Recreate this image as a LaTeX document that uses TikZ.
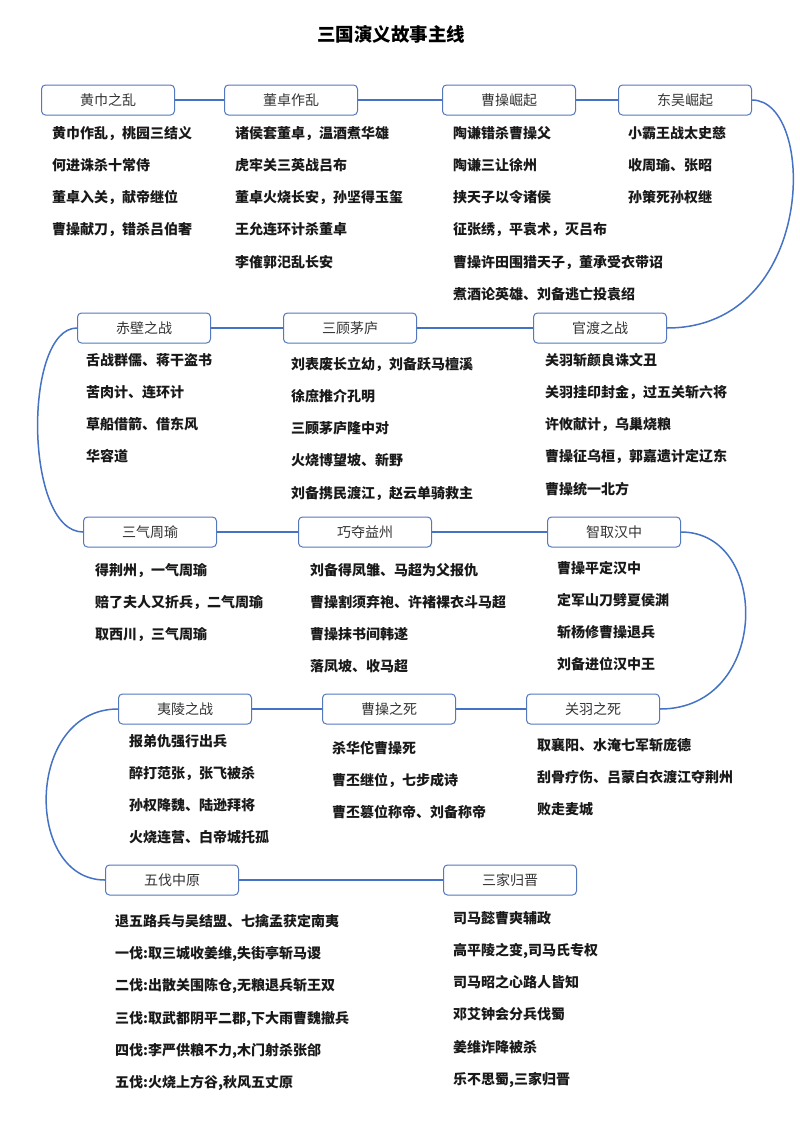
\documentclass[tikz,border=0pt]{standalone}
\usepackage{fontspec}
\setmainfont{Noto Sans CJK SC}
\definecolor{lineblue}{RGB}{68,114,196}
\definecolor{boxblue}{RGB}{84,120,190}

\begin{document}
\begin{tikzpicture}[x=1pt,y=-1pt,every node/.style={font=\fontsize{14}{16}\selectfont},
  stage/.style={align=center,rectangle,draw=boxblue,line width=1pt,rounded corners=4pt,fill=white,minimum width=133pt,minimum height=30pt,text=black!80},
  events/.style={align=left,anchor=north west,inner sep=0pt,text=black!90,font=\bfseries\fontsize{14}{32.2}\selectfont},
  link/.style={draw=lineblue,line width=1.5pt}]
\useasboundingbox (0,0) rectangle (800,1130);
\node[font=\bfseries\fontsize{18.5}{22}\selectfont] (title) at (391,34) {三国演义故事主线};
% stages
\node[stage] (huangjin) at (108,100) {黄巾之乱};
\node[stage] (dongzhuo) at (291,100) {董卓作乱};
\node[stage] (caocao) at (509,100) {曹操崛起};
\node[stage] (dongwu) at (685,100) {东吴崛起};
\node[stage] (guandu) at (600,328) {官渡之战};
\node[stage] (sangu) at (350,328) {三顾茅庐};
\node[stage] (chibi) at (144,328) {赤壁之战};
\node[stage] (sanqi) at (150,532) {三气周瑜};
\node[stage] (yizhou) at (365,532) {巧夺益州};
\node[stage] (hanzhong) at (614,532) {智取汉中};
\node[stage] (guanyu) at (593,709) {关羽之死};
\node[stage] (caosi) at (389,709) {曹操之死};
\node[stage] (yiling) at (185,709) {夷陵之战};
\node[stage] (wufa) at (172,880) {五伐中原};
\node[stage] (sanjia) at (510,880) {三家归晋};
% events
\node[events] (huangjinev) at (52,126) {黄巾作乱，桃园三结义\\何进诛杀十常侍\\董卓入关，献帝继位\\曹操献刀，错杀吕伯奢};
\node[events] (dongzhuoev) at (235,126) {诸侯套董卓，温酒煮华雄\\虎牢关三英战吕布\\董卓火烧长安，孙坚得玉玺\\王允连环计杀董卓\\李傕郭汜乱长安};
\node[events] (caocaoev) at (453,126) {陶谦错杀曹操父\\陶谦三让徐州\\挟天子以令诸侯\\征张绣，平袁术，灭吕布\\曹操许田围猎天子，董承受衣带诏\\煮酒论英雄、刘备逃亡投袁绍};
\node[events] (dongwuev) at (628,126) {小霸王战太史慈\\收周瑜、张昭\\孙策死孙权继};
\node[events] (chibiev) at (86,353) {舌战群儒、蒋干盗书\\苦肉计、连环计\\草船借箭、借东风\\华容道};
\node[events] (sanguev) at (291,357) {刘表废长立幼，刘备跃马檀溪\\徐庶推介孔明\\三顾茅庐隆中对\\火烧博望坡、新野\\刘备携民渡江，赵云单骑救主};
\node[events] (guanduev) at (545,353) {关羽斩颜良诛文丑\\关羽挂印封金，过五关斩六将\\许攸献计，乌巢烧粮\\曹操征乌桓，郭嘉遗计定辽东\\曹操统一北方};
\node[events] (sanqiev) at (95,563) {得荆州，一气周瑜\\赔了夫人又折兵，二气周瑜\\取西川，三气周瑜};
\node[events] (yizhouev) at (310,563) {刘备得凤雏、马超为父报仇\\曹操割须弃袍、许褚裸衣斗马超\\曹操抹书间韩遂\\落凤坡、收马超};
\node[events] (hanzhongev) at (557,561) {曹操平定汉中\\定军山刀劈夏侯渊\\斩杨修曹操退兵\\刘备进位汉中王};
\node[events] (yilingev) at (129,734) {报弟仇强行出兵\\醉打范张，张飞被杀\\孙权降魏、陆逊拜将\\火烧连营、白帝城托孤};
\node[events] (caosiev) at (332,741) {杀华佗曹操死\\曹丕继位，七步成诗\\曹丕篡位称帝、刘备称帝};
\node[events] (guanyuev) at (537,738) {取襄阳、水淹七军斩庞德\\刮骨疗伤、吕蒙白衣渡江夺荆州\\败走麦城};
\node[events] (wufaev) at (115,914) {退五路兵与吴结盟、七擒孟获定南夷\\一伐:取三城收姜维,失街亭斩马谡\\二伐:出散关围陈仓,无粮退兵斩王双\\三伐:取武都阴平二郡,下大雨曹魏撤兵\\四伐:李严供粮不力,木门射杀张郃\\五伐:火烧上方谷,秋风五丈原};
\node[events] (sanjiaev) at (453,911) {司马懿曹爽辅政\\高平陵之变,司马氏专权\\司马昭之心路人皆知\\邓艾钟会分兵伐蜀\\姜维诈降被杀\\乐不思蜀,三家归晋};
% main line
\draw[link] (huangjin) -- (dongzhuo);
\draw[link] (dongzhuo) -- (caocao);
\draw[link] (caocao) -- (dongwu);
\draw[link] (dongwu.east) .. controls +(65,0) and +(150,0) .. (guandu.east);
\draw[link] (guandu) -- (sangu);
\draw[link] (sangu) -- (chibi);
\draw[link] (chibi.west) .. controls +(-54,0) and +(-59,0) .. (sanqi.west);
\draw[link] (sanqi) -- (yizhou);
\draw[link] (yizhou) -- (hanzhong);
\draw[link] (hanzhong.east) .. controls +(90,0) and +(110,0) .. (guanyu.east);
\draw[link] (guanyu) -- (caosi);
\draw[link] (caosi) -- (yiling);
\draw[link] (yiling.west) .. controls +(-93,0) and +(-81,0) .. (wufa.west);
\draw[link] (wufa) -- (sanjia);
\end{tikzpicture}
\end{document}
